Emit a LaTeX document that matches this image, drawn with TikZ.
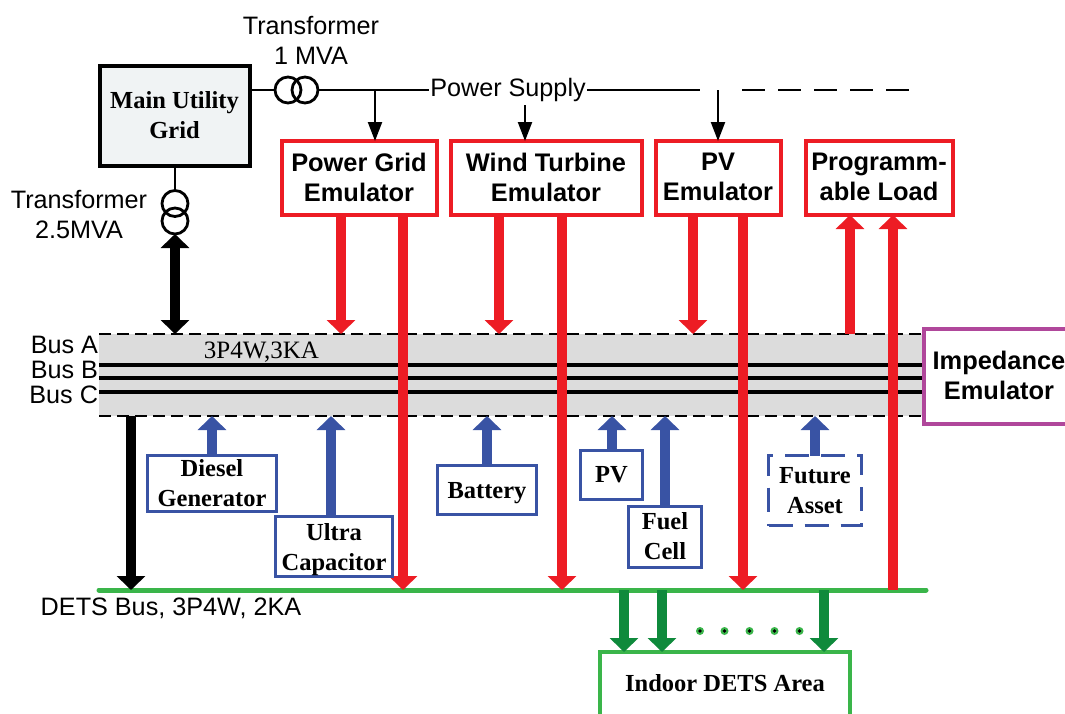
\documentclass[tikz,border=0pt]{standalone}
\usepackage{fontspec}
\setmainfont{Liberation Sans}
\newfontfamily\serifbody{Liberation Serif}
\usetikzlibrary{arrows.meta}
\definecolor{rd}{HTML}{ED1C24}
\definecolor{bl}{HTML}{3953A4}
\definecolor{gn}{HTML}{3AB54A}
\definecolor{dg}{HTML}{0F8A3C}
\definecolor{pu}{HTML}{B0479B}
\definecolor{bandgray}{HTML}{DCDCDC}
\definecolor{gridfill}{HTML}{F0F3F4}
\tikzset{
  every node/.style={inner sep=0pt,outer sep=0pt,align=center},
  sanslabel/.style={font=\fontsize{25.2}{30}\selectfont},
  serifbold/.style={font=\fontsize{24.5}{30}\selectfont\serifbody\bfseries},
  sansbold/.style={font=\fontsize{25.4}{30}\selectfont\bfseries},
  redbox/.style={draw=rd,line width=4pt,fill=white,sansbold,text depth=2pt},
  bluebox/.style={draw=bl,line width=3pt,fill=white,serifbold},
  xfmr/.style={circle,draw=black,line width=2.8pt,minimum size=26pt},
  thick arrow/.style={line width=9.5pt,-{Triangle[width=28pt,length=14pt]}},
  thin arrow/.style={line width=2.2pt,-{Triangle[width=14pt,length=19pt]}},
  wire/.style={line width=2.8pt},
  busline/.style={line width=4pt,black},
  buslimit/.style={line width=1.7pt,dash pattern=on 12pt off 6pt},
  greendot/.style={circle,fill=gn,minimum size=8pt},
}
\begin{document}
\begin{tikzpicture}[x=1pt,y=-1pt]
\clip (0,0) rectangle (1065,713);
\fill[white] (0,0) rectangle (1065,713);

% reference coordinates for vertical connectors
\foreach \n in {175,131,212,331,341,375,403,487,499,525,562,612,624,662,665,693,718,743,815,824,850,893}
  \coordinate (x\n) at (\n,0);

% bus band
\node[fill=bandgray,minimum width=826pt,minimum height=82pt] (band) at (512,375) {};
\coordinate (busL1) at (99,365);
\coordinate (busL2) at (99,378);
\coordinate (busL3) at (99,392);
\coordinate (busR1) at (926,365);
\coordinate (busR2) at (926,378);
\coordinate (busR3) at (926,392);
\draw[busline] (busL1) -- (busR1);
\draw[busline] (busL2) -- (busR2);
\draw[busline] (busL3) -- (busR3);
\draw[buslimit] (band.north west) -- (band.north east);
\draw[buslimit] (band.south west) -- (band.south east);

% top boxes
\node[draw=black,line width=4pt,fill=gridfill,minimum width=150pt,minimum height=100pt,serifbold] (main) at (174.5,115.5) {Main Utility\\Grid};
\node[redbox,minimum width=155pt,minimum height=74pt] (pge) at (359,178) {Power Grid\\Emulator};
\node[redbox,minimum width=191pt,minimum height=74pt] (wte) at (546,178) {Wind Turbine\\Emulator};
\node[redbox,minimum width=125pt,minimum height=74pt] (pve) at (718,178) {PV\\Emulator};
\node[redbox,minimum width=147pt,minimum height=74pt] (pl) at (879,178) {Programm-\\able Load};
\node[draw=pu,line width=4pt,fill=white,minimum width=150pt,minimum height=95pt,sansbold,text depth=2pt] (imp) at (999,376) {Impedance\\Emulator};

% transformers
\node[xfmr] (t1a) at (288,90) {};
\node[xfmr] (t1b) at (305,90) {};
\node[xfmr] (t2a) at (175,203.5) {};
\node[xfmr] (t2b) at (175,221) {};

% text labels
\node[sanslabel] (t1lab) at (311,40) {Transformer\\1 MVA};
\node[sanslabel] (t2lab) at (79,214) {Transformer\\2.5MVA};
\node[sanslabel,inner sep=1.5pt] (ps) at (508,90) {Power Supply};
\node[sanslabel,anchor=east] (busa) at (98,345) {Bus A};
\node[sanslabel,anchor=east] (busb) at (98,370) {Bus B};
\node[sanslabel,anchor=east] (busc) at (98,395) {Bus C};
\node[font=\fontsize{25}{30}\selectfont\serifbody] (rate) at (261.5,352) {3P4W,3KA};
\node[sanslabel] (dets) at (171,608) {DETS Bus, 3P4W, 2KA};

% supply wiring
\coordinate (psEnd) at (700,90);
\coordinate (dashA) at (742,90);
\coordinate (dashB) at (910,90);
\coordinate (windTop) at (525,105);
\draw[wire] (main.east |- t1a.west) -- (t1a.west);
\draw[wire] (t1b.east) -- (ps.west);
\draw[wire] (ps.east) -- (psEnd);
\draw[wire,dash pattern=on 23pt off 13pt] (dashA) -- (dashB);
\draw[wire] (main.south -| t2a.north) -- (t2a.north);
\draw[thin arrow] (x375 |- t1b.east) -- (x375 |- pge.north);
\draw[thin arrow] (windTop) -- (x525 |- wte.north);
\draw[thin arrow] (x718 |- psEnd) -- (x718 |- pve.north);

% green bus and lower area
\node[draw=gn,line width=4pt,fill=white,minimum width=250pt,minimum height=70pt] (indoor) at (725,687) {};
\node[serifbold] (indoorlab) at (725,683) {Indoor DETS Area};
\coordinate (detsL) at (99,590);
\coordinate (detsR) at (926,590);
\draw[gn,line width=5pt,line cap=round] (detsL) -- (detsR);

% black power arrows
\draw[line width=9.5pt,{Triangle[width=28pt,length=14pt]}-{Triangle[width=28pt,length=14pt]},black] (x175 |- t2b.south) -- (x175 |- band.north);
\draw[thick arrow,black] (x131 |- band.south) -- (x131 |- detsL);

% red power arrows
\draw[thick arrow,rd] (x341 |- pge.south) -- (x341 |- band.north);
\draw[thick arrow,rd] (x403 |- pge.south) -- (x403 |- detsL);
\draw[thick arrow,rd] (x499 |- wte.south) -- (x499 |- band.north);
\draw[thick arrow,rd] (x562 |- wte.south) -- (x562 |- detsL);
\draw[thick arrow,rd] (x693 |- pve.south) -- (x693 |- band.north);
\draw[thick arrow,rd] (x743 |- pve.south) -- (x743 |- detsL);
\draw[thick arrow,rd] (x850 |- band.north) -- (x850 |- pl.south);
\draw[thick arrow,rd] (x893 |- detsL) -- (x893 |- pl.south);

% blue sources
\node[bluebox,minimum width=129pt,minimum height=56pt] (diesel) at (212,483.5) {Diesel\\Generator};
\node[bluebox,minimum width=117pt,minimum height=60pt,text depth=0pt] (ultra) at (334,546.5) {Ultra\\Capacitor};
\node[bluebox,minimum width=99pt,minimum height=49pt,text depth=0pt] (batt) at (487,490) {Battery};
\node[bluebox,minimum width=62pt,minimum height=49pt] (pv) at (611.5,475) {PV};
\node[bluebox,minimum width=73pt,minimum height=61pt] (fuel) at (665,536.5) {Fuel\\Cell};
\node[draw=bl,line width=3pt,dash pattern=on 24pt off 12pt,fill=white,serifbold,minimum width=93pt,minimum height=70pt] (future) at (815,490.5) {Future\\Asset};
\draw[thick arrow,bl] (x212 |- diesel.north) -- (x212 |- band.south);
\draw[thick arrow,bl] (x331 |- ultra.north) -- (x331 |- band.south);
\draw[thick arrow,bl] (x487 |- batt.north) -- (x487 |- band.south);
\draw[thick arrow,bl] (x612 |- pv.north) -- (x612 |- band.south);
\draw[thick arrow,bl] (x665 |- fuel.north) -- (x665 |- band.south);
\draw[thick arrow,bl] (x815 |- future.north) -- (x815 |- band.south);

% green feeders
\draw[thick arrow,dg] (x624 |- detsL) -- (x624 |- indoor.north);
\draw[thick arrow,dg] (x662 |- detsL) -- (x662 |- indoor.north);
\draw[thick arrow,dg] (x824 |- detsL) -- (x824 |- indoor.north);
\foreach \dx/\nm in {700/a,724.5/b,749.5/c,774.5/d,799.5/e}{
  \node[greendot] (dot\nm) at (\dx,631) {};
  \fill[black] (dot\nm.center) circle (1.8pt);
}
\end{tikzpicture}
\end{document}
